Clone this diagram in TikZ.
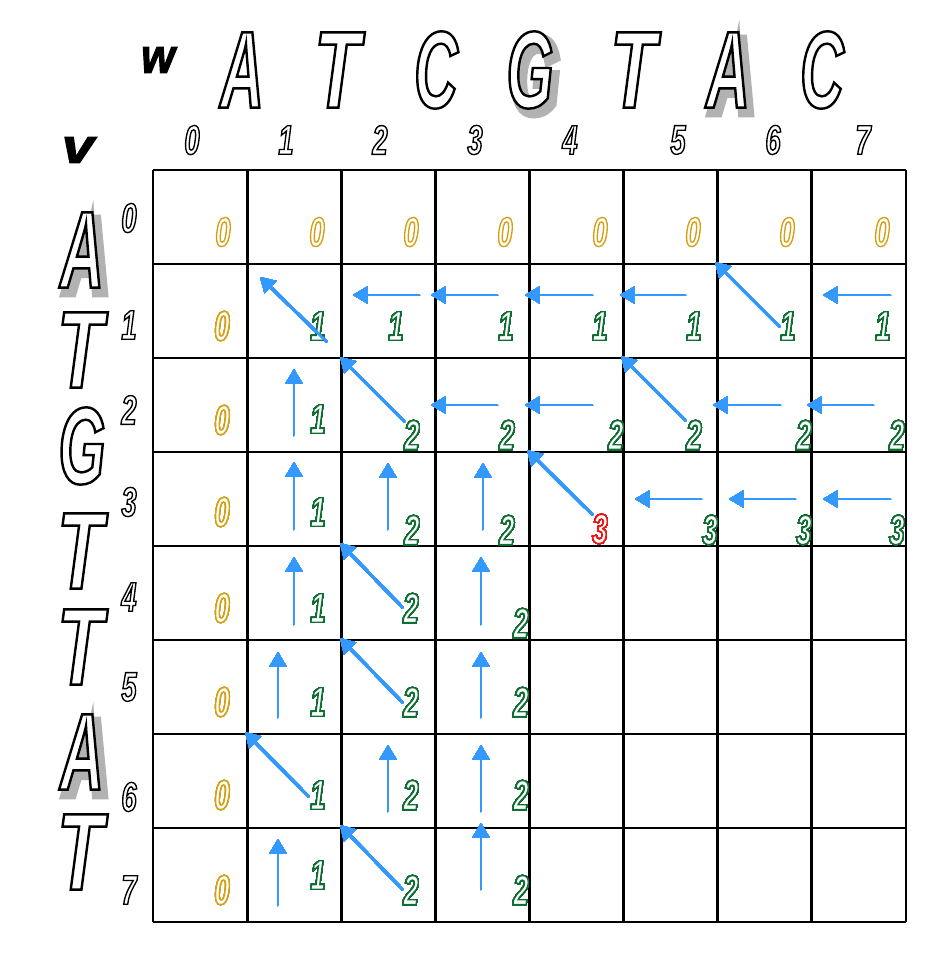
\documentclass[tikz,border=0pt]{standalone}
\usepackage{fontspec}
\setmainfont{Liberation Sans}
\usetikzlibrary{arrows.meta}
\newfontfamily\bigfontA{Liberation Sans}[FakeStretch=0.55, FakeBold=2.2]
\newfontfamily\bigfontT{Liberation Sans}[FakeStretch=0.68, FakeBold=2.2]
\newfontfamily\shfontA{Liberation Sans}[FakeStretch=0.55, FakeBold=7]
\newfontfamily\digfont{Liberation Sans}[FakeStretch=0.66, FakeBold=3.3]
\newfontfamily\vwfont{Liberation Sans}[FakeBold=2.5]
\definecolor{gold}{RGB}{214,160,20}
\definecolor{dgreen}{RGB}{15,110,50}
\definecolor{rred}{RGB}{235,20,20}
\definecolor{ablue}{RGB}{51,153,255}
% white fill, stroke colour given as PDF rgb triple
\newcommand\olrg[2]{{\color{white}\special{pdf:literal direct #1 RG}#2}}
\newcommand\olet[1]{\olrg{0 0 0}{#1}}
\newcommand\ogold[1]{\olrg{0.839 0.627 0.078}{#1}}
\newcommand\ogreen[1]{\olrg{0.059 0.431 0.196}{#1}}
\newcommand\ored[1]{\olrg{0.922 0.078 0.078}{#1}}
\tikzset{
  bigA/.style={inner sep=0pt, font=\bigfontA\fontsize{82}{82}\selectfont\bfseries\itshape},
  bigT/.style={inner sep=0pt, font=\bigfontT\fontsize{82}{82}\selectfont\bfseries\itshape},
  shadowA/.style={inner sep=0pt, text=black!30, font=\shfontA\fontsize{82}{82}\selectfont\bfseries\itshape},
  dig/.style={inner sep=0pt, font=\digfont\fontsize{31}{31}\selectfont\bfseries\itshape},
  small/.style={inner sep=0pt, font=\vwfont\fontsize{36}{36}\selectfont\bfseries\itshape},
  gridline/.style={line width=2.2pt, black},
  arr/.style={draw=ablue, line width=2pt, -{Triangle[length=11pt,width=12.5pt]}}
}
\newcommand\cellnum[4]{\node[dig] (#1) at (#2,#3) {#4};}
\begin{document}
\begin{tikzpicture}[x=0.75pt,y=-0.75pt]
\fill[white] (0,0) rectangle (932,962);
\useasboundingbox (0,0) rectangle (932,962);
% labels v, w
\node[small] (lw) at (158,60) {\scalebox{0.9}[1]{w}};
\node[small] (lv) at (78,150) {\scalebox{1.2}[1]{v}};
% shadows
\node[shadowA] (tGs) at (535,76) {G};
\node[shadowA] (tAs) at (733,76) {A};
\node[shadowA] (lAs1) at (87,256) {A};
\node[shadowA] (lAs2) at (87,758) {A};
% top sequence
\node[bigA] (tA1) at (242,70) {\olet{A}};
\node[bigT] (tT1) at (337,70) {\olet{T}};
\node[bigA] (tC1) at (436,70) {\olet{C}};
\node[bigA] (tG1) at (530,70) {\olet{G}};
\node[bigT] (tT2) at (633,70) {\olet{T}};
\node[bigA] (tA2) at (728,70) {\olet{A}};
\node[bigA] (tC2) at (822,70) {\olet{C}};
% left sequence
\node[bigA] (lA1) at (82,250) {\olet{A}};
\node[bigT] (lT1) at (80,350) {\olet{T}};
\node[bigA] (lG1) at (82,446) {\olet{G}};
\node[bigT] (lT2) at (80,551) {\olet{T}};
\node[bigT] (lT3) at (80,647) {\olet{T}};
\node[bigA] (lA2) at (82,752) {\olet{A}};
\node[bigT] (lT4) at (80,852) {\olet{T}};
% column indices
\foreach \px/\nn [count=\ii] in {192/0,286/1,380/2,475/3,570/4,678/5,773/6,863/7}
  \node[dig] (ci\ii) at (\px,140) {\olet{\nn}};
% row indices
\foreach \py/\nn [count=\ii] in {218/0,325/1,410/2,502/3,597/4,687/5,797/6,890/7}
  \node[dig] (ri\ii) at (129,\py) {\olet{\nn}};
% grid
\foreach \ii in {0,...,8} {
  \draw[gridline] ({153+\ii*94.125},170) -- ({153+\ii*94.125},922);
  \draw[gridline] (153,{170+\ii*94}) -- (906,{170+\ii*94});
}
% row 0
\foreach \px [count=\ii] in {223,317,411,505,600,693,787,882}
  \cellnum{r0c\ii}{\px}{232}{\ogold{0}}
% column 0
\foreach \py [count=\ii] in {326,420,512,608,702,795,890}
  \cellnum{c0r\ii}{222}{\py}{\ogold{0}}
% row 1
\cellnum{a11}{318}{326}{\ogreen{1}}
\cellnum{a12}{396}{326}{\ogreen{1}}
\cellnum{a13}{506}{326}{\ogreen{1}}
\cellnum{a14}{600}{326}{\ogreen{1}}
\cellnum{a15}{694}{326}{\ogreen{1}}
\cellnum{a16}{788}{326}{\ogreen{1}}
\cellnum{a17}{883}{326}{\ogreen{1}}
% row 2
\cellnum{a21}{318}{419}{\ogreen{1}}
\cellnum{a22}{412}{435}{\ogreen{2}}
\cellnum{a23}{507}{435}{\ogreen{2}}
\cellnum{a24}{616}{435}{\ogreen{2}}
\cellnum{a25}{694}{435}{\ogreen{2}}
\cellnum{a26}{804}{435}{\ogreen{2}}
\cellnum{a27}{897}{435}{\ogreen{2}}
% row 3
\cellnum{a31}{318}{512}{\ogreen{1}}
\cellnum{a32}{412}{530}{\ogreen{2}}
\cellnum{a33}{507}{530}{\ogreen{2}}
\cellnum{a34}{600}{529}{\ored{3}}
\cellnum{a35}{710}{530}{\ogreen{3}}
\cellnum{a36}{804}{530}{\ogreen{3}}
\cellnum{a37}{897}{530}{\ogreen{3}}
% rows 4-7
\cellnum{a41}{318}{608}{\ogreen{1}}
\cellnum{a42}{411}{608}{\ogreen{2}}
\cellnum{a43}{521}{623}{\ogreen{2}}
\cellnum{a51}{318}{702}{\ogreen{1}}
\cellnum{a52}{411}{702}{\ogreen{2}}
\cellnum{a53}{521}{702}{\ogreen{2}}
\cellnum{a61}{318}{795}{\ogreen{1}}
\cellnum{a62}{411}{795}{\ogreen{2}}
\cellnum{a63}{521}{795}{\ogreen{2}}
\cellnum{a71}{318}{875}{\ogreen{1}}
\cellnum{a72}{411}{890}{\ogreen{2}}
\cellnum{a73}{521}{890}{\ogreen{2}}
% arrows: tail -> tip
\foreach \xa/\ya/\xb/\yb in {
  327/342/260/277, 420/295/353/295, 498/295/431/295, 593/295/525/295, 686/295/620/295, 780/327/715/262, 891/295/823/295,
  294/436/294/369, 405/422/340/357, 498/405/431/405, 593/405/525/405, 686/421/621/356, 781/405/713/405, 874/405/807/405,
  294/530/294/462, 388/530/388/463, 483/530/483/463, 593/515/527/450, 702/499/635/499, 796/499/729/499, 891/499/823/499,
  294/625/294/557, 403/608/340/543, 481/625/481/557,
  278/718/278/652, 403/703/340/638, 481/718/481/652,
  309/797/245/732, 388/812/388/745, 481/812/481/745,
  278/906/278/839, 403/890/340/825, 481/890/481/823}
  \draw[arr] (\xa,\ya) -- (\xb,\yb);
\end{tikzpicture}
\end{document}
